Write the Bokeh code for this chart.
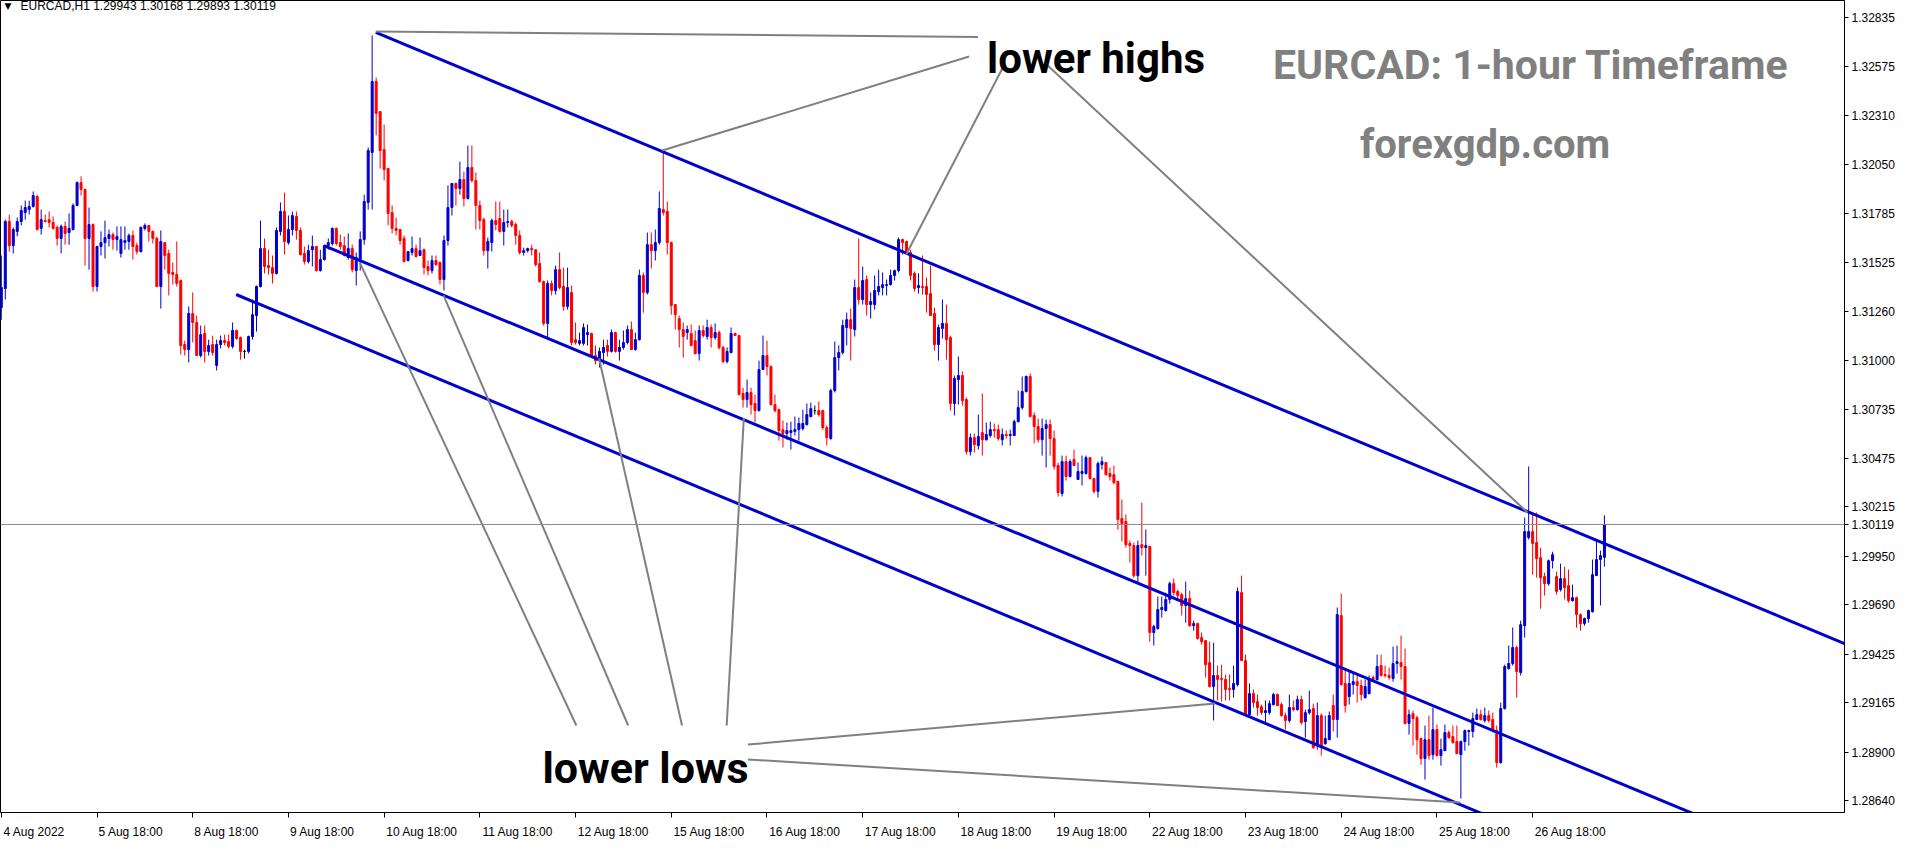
from bokeh.plotting import figure
from bokeh.models import Range1d, FixedTicker, PrintfTickFormatter, Span, Label, ColumnDataSource
from bokeh.embed import file_html
from bokeh.resources import INLINE

# ---------------- data (prices in 1e-5 units) ----------------
open_pts = [
131281,131383,131742,131613,131689,131742,131790,131806,131823,131876,
131705,131747,131752,131737,131710,131651,131716,131683,131699,131828,
131951,131913,131651,131726,131394,131608,131629,131651,131672,131645,
131571,131629,131635,131667,131613,131581,131705,131721,131689,131651,
131394,131629,131571,131469,131458,131426,131083,131056,131249,131201,
131024,131142,131046,131083,130971,131083,131104,131099,131073,131158,
131120,131046,131046,131126,131238,131394,131597,131506,131495,131464,
131689,131796,131629,131699,131769,131694,131571,131528,131591,131608,
131479,131538,131613,131624,131705,131629,131613,131549,131597,131479,
131538,131645,131844,132112,132492,132331,132127,132026,131790,131705,
131699,131651,131533,131576,131597,131560,131591,131501,131479,131533,
131522,131431,131640,131817,131946,131919,131967,131865,132031,131962,
131828,131752,131586,131629,131747,131758,131689,131737,131742,131726,
131667,131576,131586,131597,131591,131517,131420,131196,131410,131372,
131484,131394,131287,131362,131109,131089,131089,131136,131142,131024,
130997,131040,131078,131046,131147,131046,131067,131094,131163,131056,
131109,131453,131362,131618,131586,131629,131806,131796,131629,131297,
131222,131163,131147,131142,131104,131035,131158,131126,131174,131120,
131147,131067,130992,131040,131142,131131,130821,130788,130826,130767,
130729,130949,131024,130965,130761,130734,130627,130606,130611,130617,
130627,130633,130654,130697,130729,130729,130729,130638,130579,130836,
131013,131040,131174,131216,131163,131388,131324,131431,131297,131297,
131367,131388,131399,131404,131453,131479,131645,131635,131576,131464,
131388,131394,131394,131356,131249,131083,131169,131196,131120,130767,
130895,130917,130788,130509,130584,130542,130611,130573,130595,130627,
130627,130573,130601,130595,130595,130670,130745,130831,130912,130703,
130644,130573,130633,130654,130579,130435,130285,130456,130376,130467,
130360,130392,130392,130477,130365,130296,130440,130451,130392,130386,
130349,130151,130135,130017,130006,129845,130011,129995,130001,129540,
129561,129663,129658,129717,129802,129760,129743,129685,129722,129577,
129588,129513,129497,129379,129251,129310,129294,129289,129240,129235,
129261,129754,129390,129100,129213,129170,129143,129111,129111,129154,
129208,129154,129095,129069,129138,129127,129181,129063,129111,129133,
128934,129095,128945,128966,129149,129074,129631,129267,129197,129261,
129277,129256,129191,129213,129299,129288,129363,129315,129310,129294,
129374,129379,129358,129053,129106,129084,128972,128865,128966,128886,
129020,128881,128907,129004,128983,128956,128886,128956,129010,129010,
129074,129100,129069,129095,129074,129015,128843,129133,129347,129374,
129460,129326,129577,130049,130081,130022,129941,129840,129802,129925,
129840,129770,129829,129791,129711,129727,129636,129588,129615,129652,
129845,129931,129943]

high_pts = [
131560,131752,131779,131710,131763,131828,131854,131854,131903,131886,
131806,131779,131796,131769,131721,131726,131742,131785,131839,131957,
131984,131919,131817,131732,131613,131689,131747,131699,131683,131716,
131716,131716,131678,131694,131629,131716,131732,131721,131694,131662,
131694,131629,131591,131522,131635,131431,131104,131287,131362,131238,
131185,131185,131109,131131,131109,131131,131136,131136,131201,131163,
131126,131056,131131,131324,131399,131747,131651,131591,131560,131710,
131844,131897,131774,131796,131796,131710,131608,131618,131667,131608,
131591,131613,131651,131710,131710,131672,131662,131678,131618,131576,
131689,131886,132138,132739,132513,132331,132261,132026,131828,131763,
131699,131667,131581,131662,131618,131656,131597,131533,131560,131560,
131528,131667,131935,131946,131951,132063,132010,132149,132149,132005,
131854,131763,131656,131758,131849,131849,131806,131806,131752,131737,
131694,131602,131602,131618,131591,131576,131426,131426,131426,131506,
131576,131495,131495,131399,131201,131147,131196,131190,131147,131078,
131067,131109,131109,131163,131152,131109,131158,131185,131206,131147,
131484,131469,131683,131683,131699,131903,132117,131849,131635,131297,
131238,131201,131185,131190,131158,131185,131185,131216,131190,131196,
131158,131078,131067,131174,131147,131136,130852,130895,130852,130815,
130997,131131,131104,130971,130815,130740,130676,130665,130670,130697,
130692,130734,130767,130772,130756,130778,130734,130649,130847,131099,
131078,131216,131254,131276,131431,131651,131501,131453,131362,131453,
131484,131469,131431,131484,131484,131656,131651,131640,131591,131474,
131464,131560,131442,131506,131281,131190,131324,131297,131131,130917,
131019,130939,130799,130606,130606,130708,130821,130665,130670,130660,
130654,130633,130622,130627,130681,130836,130912,130917,130928,130719,
130686,130686,130681,130681,130622,130451,130488,130488,130467,130520,
130451,130488,130488,130477,130370,130456,130483,130451,130424,130435,
130354,130253,130172,130033,130022,130033,130236,130092,130006,129582,
129733,129733,129754,129813,129829,129770,129754,129813,129765,129604,
129593,129540,129497,129491,129486,129363,129368,129315,129315,129363,
129781,129845,129422,129267,129235,129208,129154,129176,129176,129218,
129213,129165,129111,129208,129176,129202,129202,129127,129229,129159,
129165,129106,129095,129117,129208,129674,129749,129347,129336,129326,
129310,129288,129288,129310,129310,129422,129422,129363,129352,129465,
129470,129524,129454,129127,129122,129095,128977,129042,129095,129138,
129047,128972,129047,129015,129042,129042,128961,129020,129020,129111,
129133,129127,129138,129122,129111,129042,129165,129368,129470,129567,
129470,129604,130156,130430,130183,130183,129995,129861,129931,129973,
129866,129909,129893,129877,129797,129733,129642,129620,129663,129931,
130038,129979,130168]

low_pts = [
131216,131324,131581,131571,131662,131721,131752,131779,131817,131694,
131672,131737,131710,131699,131613,131571,131618,131618,131694,131823,
131881,131506,131484,131367,131367,131560,131544,131608,131591,131586,
131549,131591,131591,131538,131565,131576,131694,131635,131624,131394,
131276,131484,131346,131404,131394,131029,131024,130987,131094,131024,
131013,130987,131024,131024,130944,131062,131078,131062,131062,131109,
131002,131008,131035,131109,131152,131388,131464,131458,131410,131458,
131667,131565,131618,131667,131645,131560,131511,131517,131501,131474,
131474,131533,131591,131613,131613,131591,131555,131538,131469,131399,
131479,131618,131806,131806,132203,132026,131962,131721,131678,131667,
131618,131522,131528,131560,131549,131560,131458,131453,131464,131506,
131404,131372,131613,131774,131828,131886,131823,131860,131951,131699,
131699,131560,131490,131581,131694,131683,131613,131710,131710,131618,
131565,131560,131576,131560,131501,131415,131185,131120,131346,131351,
131378,131265,131270,131078,131083,131078,131078,131078,131013,130976,
130960,130976,131019,131040,131040,130997,131056,131083,131056,131051,
131104,131254,131351,131490,131533,131618,131774,131565,131243,131163,
131067,131013,131109,131073,131029,130997,131120,131109,131067,131109,
131056,130982,130982,131035,131131,130810,130745,130745,130708,130665,
130724,130949,130917,130756,130719,130568,130531,130573,130520,130595,
130568,130622,130649,130692,130708,130697,130627,130542,130573,130826,
130944,131029,131078,130997,131126,131297,131297,131238,131222,131270,
131346,131346,131346,131399,131426,131469,131565,131565,131426,131367,
131356,131351,131254,131238,131051,130997,131115,131002,130729,130703,
130761,130756,130493,130488,130504,130520,130488,130568,130584,130584,
130568,130542,130579,130542,130595,130665,130734,130826,130692,130553,
130558,130488,130424,130488,130413,130269,130269,130354,130370,130435,
130360,130328,130386,130360,130285,130263,130413,130381,130354,130333,
130091,130027,129995,129915,129834,129808,129952,129845,129491,129470,
129556,129620,129652,129695,129738,129711,129631,129593,129572,129550,
129502,129475,129299,129245,129069,129176,129170,129176,129176,129191,
129251,129390,129095,129095,129138,129095,129100,129058,129100,129149,
129149,129090,129020,129058,129117,129122,129047,128977,129100,128918,
128913,128881,128939,128966,129010,128977,129256,129111,129154,129208,
129165,129176,129186,129208,129283,129283,129304,129299,129288,129277,
129320,129288,129047,128993,128934,128886,128832,128752,128859,128859,
128876,128827,128907,128972,128945,128891,128651,128907,128934,128977,
129074,129069,129058,129058,129004,128816,128838,129127,129342,129363,
129191,129310,129513,130038,129850,129834,129668,129738,129791,129883,
129743,129760,129717,129701,129706,129566,129550,129577,129593,129647,
129845,129685,129893]

close_pts = [
131388,131742,131613,131699,131742,131801,131817,131823,131881,131699,
131752,131742,131737,131705,131651,131716,131678,131705,131828,131951,
131913,131651,131726,131394,131608,131629,131656,131672,131645,131662,
131645,131640,131667,131608,131581,131710,131721,131689,131651,131394,
131635,131560,131464,131458,131410,131078,131056,131249,131201,131024,
131136,131046,131078,131040,131083,131104,131094,131073,131158,131115,
131046,131046,131126,131243,131394,131597,131501,131495,131464,131694,
131796,131635,131699,131774,131694,131565,131528,131586,131608,131479,
131538,131613,131629,131705,131624,131608,131560,131597,131484,131549,
131645,131849,132122,132492,132321,132122,132020,131785,131705,131694,
131640,131528,131581,131597,131555,131586,131495,131479,131533,131511,
131431,131640,131817,131946,131919,131967,131865,132031,131962,131828,
131747,131586,131635,131747,131726,131689,131737,131742,131721,131667,
131576,131586,131597,131591,131511,131420,131196,131410,131372,131484,
131388,131287,131388,131094,131094,131104,131174,131147,131024,130997,
131046,131067,131046,131147,131046,131067,131094,131163,131056,131109,
131453,131362,131618,131586,131629,131812,131790,131629,131292,131243,
131163,131126,131163,131078,131035,131158,131131,131174,131120,131147,
131067,130992,131046,131142,131131,130815,130788,130826,130761,130729,
130949,131024,130965,130761,130729,130622,130606,130622,130622,130627,
130660,130660,130708,130740,130729,130708,130638,130584,130836,131013,
131040,131185,131216,131169,131388,131324,131426,131297,131313,131372,
131394,131404,131404,131453,131479,131645,131629,131576,131453,131383,
131399,131388,131351,131238,131083,131174,131196,131109,130767,130901,
130917,130783,130509,130584,130547,130590,130573,130601,130627,130622,
130579,130601,130595,130601,130670,130745,130831,130912,130697,130644,
130573,130633,130654,130579,130430,130290,130456,130376,130456,130435,
130403,130403,130477,130365,130296,130446,130456,130386,130376,130344,
130145,130124,130011,130006,129845,130006,129995,130006,129540,129572,
129663,129674,129717,129802,129754,129738,129685,129722,129577,129588,
129508,129491,129368,129251,129310,129289,129289,129235,129235,129267,
129760,129390,129100,129213,129165,129138,129111,129122,129159,129208,
129149,129095,129069,129138,129127,129181,129058,129111,129127,128923,
129095,128923,128972,129095,129074,129636,129261,129149,129267,129277,
129256,129208,129251,129294,129288,129358,129310,129310,129299,129374,
129384,129358,129053,129100,129079,128966,128865,128966,128881,129020,
128881,128913,129004,128977,128950,128891,128956,129015,129015,129079,
129100,129074,129095,129069,129015,128843,129133,129358,129374,129460,
129331,129582,130081,130081,130017,129936,129834,129802,129925,129957,
129760,129829,129781,129711,129727,129636,129588,129615,129658,129850,
129931,129952,130119]

price_ticks = [1.32835, 1.32575, 1.32310, 1.32050, 1.31785, 1.31525, 1.31260, 1.31000,
               1.30735, 1.30475, 1.30215, 1.29950, 1.29690, 1.29425, 1.29165, 1.28900, 1.28640]
time_tick_bars = [0, 24, 48, 72, 96, 120, 144, 168, 192, 216, 240, 264, 288, 312, 336, 360, 384]
time_tick_labels = ["4 Aug 2022", "5 Aug 18:00", "8 Aug 18:00", "9 Aug 18:00", "10 Aug 18:00",
                    "11 Aug 18:00", "12 Aug 18:00", "15 Aug 18:00", "16 Aug 18:00", "17 Aug 18:00",
                    "18 Aug 18:00", "19 Aug 18:00", "22 Aug 18:00", "23 Aug 18:00", "24 Aug 18:00",
                    "25 Aug 18:00", "26 Aug 18:00"]
last_price = 1.30119
header_text = "EURCAD,H1  1.29943 1.30168 1.29893 1.30119"

# channel lines (bar index, price)
chan_x0 = [93.9, 80.9, 58.9]
chan_y0 = [1.32755, 1.31613, 1.31351]
chan_x1 = [462.2, 427.2, 374.2]
chan_y1 = [1.29481, 1.28544, 1.28544]

# pointer lines (bar index, price)
ann_x0 = [93.9, 165.7, 226.9, 262.4, 89.9, 110.9, 149.9, 186.2, 187.2, 187.2]
ann_y0 = [1.32760, 1.32122, 1.31565, 1.32578, 1.31522, 1.31346, 1.31008, 1.30690, 1.28940, 1.28860]
ann_x1 = [244.9, 242.7, 251.4, 382.7, 144.2, 157.2, 170.7, 181.9, 304.4, 365.9]
ann_y1 = [1.32730, 1.32626, 1.32578, 1.30183, 1.29042, 1.29042, 1.29042, 1.29042, 1.29160, 1.28629]

# ---------------- build ----------------
n = min(len(open_pts), len(high_pts), len(low_pts), len(close_pts))
S = 1e-5
o = [v * S for v in open_pts[:n]]
h = [v * S for v in high_pts[:n]]
l = [v * S for v in low_pts[:n]]
c = [v * S for v in close_pts[:n]]
idx = list(range(n))
BLUE = "#0000CC"
RED = "#FF0000"
cols = [BLUE if cc > oo else (RED if cc < oo else "#000000") for oo, cc in zip(o, c)]
src = ColumnDataSource(dict(x=idx, o=o, h=h, l=l, c=c,
                            top=[max(a, b) for a, b in zip(o, c)],
                            bot=[min(a, b) for a, b in zip(o, c)],
                            col=cols))

FRAME_W = 1844
X0, X1 = -0.2, 462.2
PX_PER_BAR = FRAME_W / (X1 - X0)

p = figure(frame_width=FRAME_W, frame_height=812,
           x_range=Range1d(X0, X1), y_range=Range1d(1.28576, 1.32926),
           y_axis_location="right", output_backend="svg", toolbar_location=None,
           min_border_left=0, min_border_top=0, min_border_right=0, min_border_bottom=0)
p.background_fill_color = "white"
p.border_fill_color = "white"
p.outline_line_color = "black"
p.outline_line_width = 1
p.grid.visible = False

AX_FONT = "Liberation Sans"
p.yaxis.ticker = FixedTicker(ticks=price_ticks + [last_price])
p.yaxis.formatter = PrintfTickFormatter(format="%.5f")
p.yaxis.major_tick_out = 4
p.yaxis.major_tick_in = 0
p.yaxis.minor_tick_line_color = None
p.yaxis.major_label_standoff = 3
p.yaxis.major_label_text_font = AX_FONT
p.yaxis.major_label_text_font_size = "12px"
p.yaxis.major_label_text_color = "black"
p.yaxis.axis_line_color = "black"

# time axis: labels left-aligned at their tick like MT4.
# major ticks (invisible) carry the labels, minor ticks mark the bar positions.
CW = {ch: 6.67 for ch in "0123456789"}
CW.update({" ": 3.33, ":": 3.33, "A": 8.0, "u": 6.67, "g": 6.67})
label_ticks, overrides = [], {}
for tb, tl in zip(time_tick_bars, time_tick_labels):
    w = sum(CW.get(ch, 6.67) for ch in tl)
    pos = round((tb + (w / 2 + 2) / PX_PER_BAR) * 4) / 4
    label_ticks.append(pos)
    overrides[pos] = tl
p.xaxis.ticker = FixedTicker(ticks=label_ticks, minor_ticks=time_tick_bars)
p.xaxis.major_label_overrides = overrides
p.xaxis.major_tick_line_color = None
p.xaxis.major_tick_out = 0
p.xaxis.major_tick_in = 0
p.xaxis.minor_tick_line_color = "black"
p.xaxis.minor_tick_out = 5
p.xaxis.minor_tick_in = 0
p.xaxis.major_label_standoff = 7
p.xaxis.major_label_text_font = AX_FONT
p.xaxis.major_label_text_font_size = "12px"
p.xaxis.major_label_text_color = "black"
p.xaxis.axis_line_color = "black"

p.add_layout(Span(location=last_price, dimension="width", line_color="#8a8a8a", line_width=1))

p.segment(x0="x", y0="l", x1="x", y1="h", line_color="col", line_width=1, source=src)
p.vbar(x="x", width=0.5, top="top", bottom="bot", fill_color="col", line_color="col",
       line_width=1, source=src)

p.segment(x0=chan_x0, y0=chan_y0, x1=chan_x1, y1=chan_y1, line_color="#0000CC", line_width=3)
p.segment(x0=ann_x0, y0=ann_y0, x1=ann_x1, y1=ann_y1, line_color="#808080", line_width=2)

BIG = "Roboto"
p.add_layout(Label(x=247.2, y=1.32615, text="lower highs", text_font=BIG, text_font_style="bold",
                   text_font_size="42px", text_color="black", text_baseline="alphabetic"))
p.add_layout(Label(x=135.7, y=1.28817, text="lower lows", text_font=BIG, text_font_style="bold",
                   text_font_size="43px", text_color="black", text_baseline="alphabetic"))
p.add_layout(Label(x=318.9, y=1.32578, text="EURCAD: 1-hour Timeframe", text_font=BIG,
                   text_font_style="bold", text_font_size="41px", text_color="#808080",
                   text_baseline="alphabetic"))
p.add_layout(Label(x=340.7, y=1.32155, text="forexgdp.com", text_font=BIG,
                   text_font_style="bold", text_font_size="40px", text_color="#808080",
                   text_baseline="alphabetic"))

p.add_layout(Label(x=4, y=807, x_units="screen", y_units="screen", text="\u25bc",
                   text_font="DejaVu Sans", text_font_size="9px", text_baseline="middle",
                   text_color="black"))
p.add_layout(Label(x=20, y=807, x_units="screen", y_units="screen", text=header_text,
                   text_font=AX_FONT, text_font_size="12px", text_baseline="middle",
                   text_color="black"))

open("out.html", "w").write(file_html(p, INLINE))
